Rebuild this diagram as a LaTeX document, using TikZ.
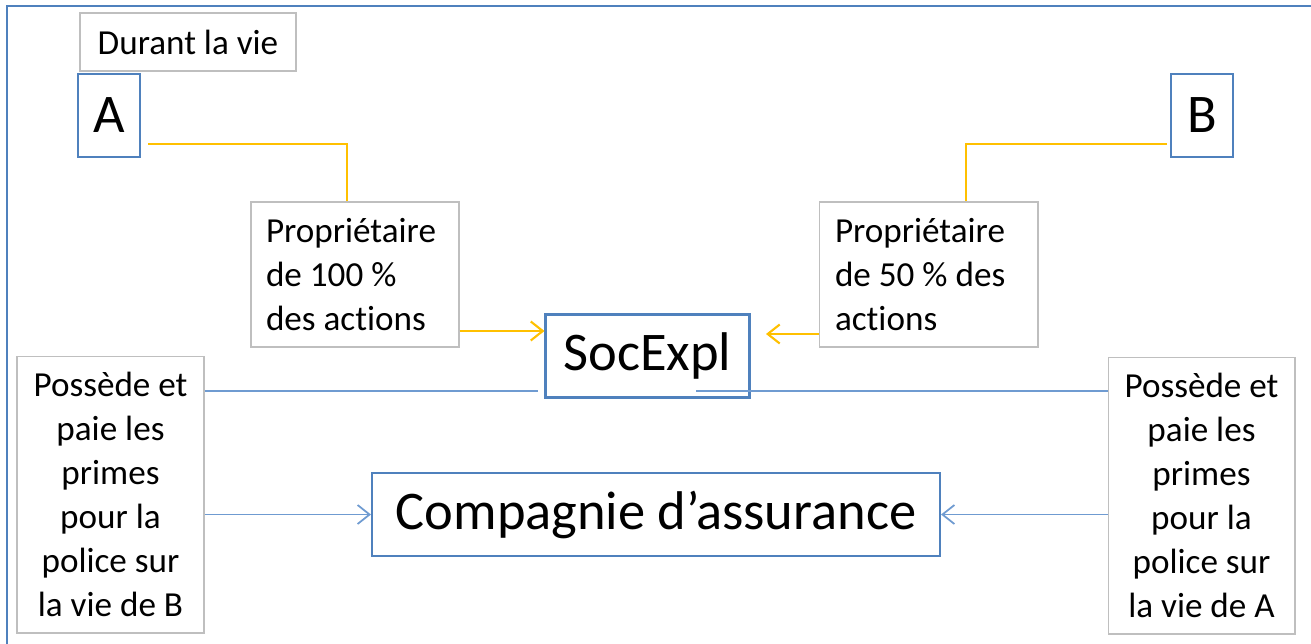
\documentclass[tikz,border=0pt]{standalone}
\usepackage{fontspec}
\setmainfont{Carlito}[Ligatures=NoCommon]
\usetikzlibrary{arrows.meta,positioning,calc}
\definecolor{cblue}{HTML}{4F81BD}
\definecolor{clight}{HTML}{6F9BD1}
\definecolor{cyellow}{HTML}{FFC000}
\definecolor{cgray}{HTML}{BFBFBF}
\tikzset{
  >={Straight Barb[length=2.4mm,width=3.8mm]},
  cframe/.style={draw=cblue, line width=1.2pt},
  cnote/.style={draw=cgray, line width=0.6pt, fill=white, inner sep=0pt,
                font=\fontsize{20}{25}\selectfont},
  cperson/.style={draw=cblue, line width=1.2pt, fill=white, inner sep=0pt,
                  font=\fontsize{31}{37}\selectfont},
  cown/.style={draw=cyellow, line width=1.2pt},
  cpay/.style={draw=clight, line width=1pt},
}

\begin{document}
\begin{tikzpicture}[x=0.02cm, y=-0.02cm]
  \useasboundingbox (0,0) rectangle (1311,643);

  % cadre
  \draw[cframe] (7,6) rectangle (1340,680);

  % personnes
  \node[cnote, minimum width=4.32cm, minimum height=1.16cm] (durant) at (188,42) {Durant la vie};
  \node[cperson, minimum width=1.24cm, minimum height=1.66cm] (A) at (109,115.5) {A};
  \node[cperson, minimum width=1.24cm, minimum height=1.66cm] (B) at (1202,115.5) {B};

  % actions
  \node[cnote, minimum height=2.9cm, inner xsep=0.3cm, text width=3.56cm, align=flush left]
       (prop100) at (355,274.5) {Propriétaire\\de 100 \%\\des actions};
  \node[cnote, minimum height=2.9cm, inner xsep=0.32cm, text width=3.74cm, align=flush left]
       (prop50) at (928.5,274.5) {Propriétaire\\de 50 \% des\\actions};

  \node[cperson, minimum width=4.08cm, minimum height=1.66cm] (socexpl) at (647.5,356) {SocExpl};
  \node[cperson, minimum width=11.36cm, minimum height=1.66cm] (compagnie) at (656,514.5) {Compagnie d’assurance};

  % polices
  \node[cnote, minimum width=3.74cm, minimum height=5.54cm, align=center]
       (possB) at (110.5,494.5) {Possède et\\paie les\\primes\\pour la\\police sur\\la vie de B};
  \node[cnote, minimum width=3.74cm, minimum height=5.54cm, align=center]
       (possA) at (1201.5,495.5) {Possède et\\paie les\\primes\\pour la\\police sur\\la vie de A};

  % liens de propriete
  \coordinate (aout) at (148,144);
  \coordinate (bout) at (1167,144);
  \coordinate (ay) at (0,331);
  \coordinate (by) at (0,334);
  \coordinate (bend) at (766,334);
  \draw[cown] (aout) -| ($(prop100.north)+(-8,0)$);
  \draw[cown] (bout) -| ($(prop50.north)+(37.5,0)$);
  \draw[cown, ->] (prop100.east |- ay) -- (socexpl.west |- ay);
  \draw[cown, ->] (prop50.west |- by) -- (bend);

  % primes
  \coordinate (sl) at (538,391);
  \coordinate (sr) at (696,391);
  \draw[cpay] (possB.east |- sl) -- (sl);
  \draw[cpay] (sr) -- (possA.west |- sr);
  \draw[cpay, ->] (possB.east |- compagnie.west) -- (compagnie.west);
  \draw[cpay, ->] (possA.west |- compagnie.east) -- (compagnie.east);

\end{tikzpicture}
\end{document}
